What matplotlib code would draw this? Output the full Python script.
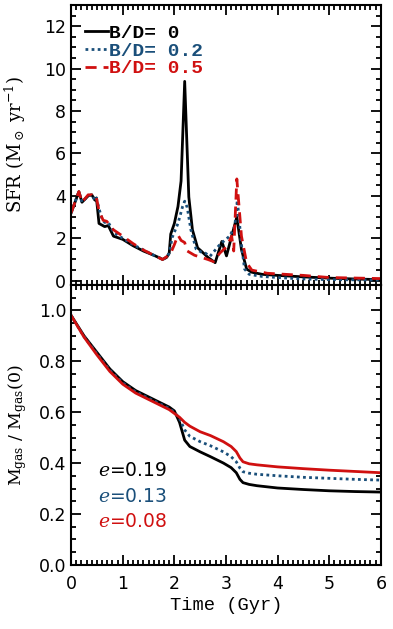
import numpy as np
import matplotlib
matplotlib.use('Agg')
import matplotlib.pyplot as plt
from matplotlib.ticker import MultipleLocator, FormatStrFormatter

# SFR curves (top panel)
t_sfr0 = [0.0, 0.15, 0.21, 0.33, 0.4, 0.46, 0.49, 0.54, 0.65, 0.72, 0.82, 0.88, 1.0, 1.2, 1.4, 1.6,
          1.72, 1.77, 1.85, 1.9, 1.93, 2.0, 2.07, 2.13, 2.2, 2.28, 2.35, 2.45, 2.52, 2.65, 2.79, 2.92,
          3.01, 3.11, 3.21, 3.30, 3.40, 3.5, 3.7, 4.0, 4.5, 5.0, 5.5, 6.0]
sfr0 = [3.2, 4.2, 3.7, 4.0, 4.05, 3.8, 3.9, 2.7, 2.55, 2.6, 2.1, 2.05, 1.95, 1.65, 1.4, 1.2,
        1.07, 1.0, 1.1, 1.3, 2.2, 2.7, 3.5, 4.7, 9.4, 3.95, 2.4, 1.55, 1.4, 1.1, 0.85, 1.85,
        1.17, 2.1, 3.0, 1.47, 0.55, 0.4, 0.3, 0.25, 0.18, 0.12, 0.08, 0.05]

t_sfr2 = [0.0, 0.15, 0.21, 0.33, 0.4, 0.46, 0.49, 0.54, 0.6, 0.65, 0.72, 0.82, 0.9, 1.0, 1.2, 1.4,
          1.6, 1.72, 1.77, 1.85, 1.9, 1.96, 2.07, 2.16, 2.2, 2.25, 2.32, 2.42, 2.52, 2.6, 2.69, 2.88,
          3.07, 3.17, 3.22, 3.30, 3.36, 3.45, 3.7, 4.0, 4.5, 5.0, 6.0]
sfr2 = [3.2, 4.2, 3.7, 4.0, 4.05, 3.8, 3.9, 3.4, 2.9, 2.75, 2.75, 2.3, 2.15, 2.0, 1.7, 1.45,
        1.2, 1.07, 1.0, 1.1, 1.3, 2.05, 2.7, 3.5, 3.75, 3.45, 2.4, 1.5, 1.35, 1.3, 1.15, 1.7,
        2.1, 2.55, 3.8, 1.7, 0.55, 0.3, 0.2, 0.15, 0.08, 0.05, 0.03]

t_sfr5 = [0.0, 0.15, 0.21, 0.33, 0.4, 0.46, 0.49, 0.54, 0.62, 0.69, 0.82, 1.0, 1.2, 1.4, 1.6, 1.77,
          1.85, 1.93, 2.0, 2.07, 2.13, 2.2, 2.25, 2.39, 2.52, 2.65, 2.76, 2.88, 3.01, 3.11, 3.15,
          3.21, 3.30, 3.40, 3.5, 3.8, 4.5, 5.0, 6.0]
sfr5 = [3.2, 4.2, 3.7, 4.05, 4.05, 3.85, 3.9, 3.3, 2.85, 2.8, 2.4, 2.1, 1.75, 1.45, 1.2, 1.0,
        1.13, 1.3, 1.7, 2.15, 1.9, 1.8, 1.4, 1.2, 1.1, 1.0, 0.9, 1.3, 1.6, 2.1, 1.4,
        4.8, 2.1, 0.85, 0.5, 0.35, 0.25, 0.15, 0.1]

# gas fraction curves (bottom panel)
t_gas = [0.0, 0.25, 0.5, 0.75, 1.0, 1.25, 1.5, 1.75, 1.9, 2.0, 2.1, 2.2, 2.3, 2.5, 2.7, 2.95,
         3.1, 3.2, 3.27, 3.33, 3.45, 3.6, 4.0, 4.5, 5.0, 5.5, 6.0]
gas0 = [0.98, 0.90, 0.835, 0.77, 0.72, 0.685, 0.66, 0.635, 0.62, 0.605, 0.56, 0.49, 0.465, 0.444,
        0.425, 0.40, 0.382, 0.362, 0.336, 0.323, 0.316, 0.311, 0.302, 0.296, 0.291, 0.288, 0.286]
gas2 = [0.98, 0.897, 0.83, 0.765, 0.715, 0.68, 0.655, 0.63, 0.615, 0.60, 0.575, 0.53, 0.505, 0.484,
        0.468, 0.444, 0.425, 0.405, 0.38, 0.366, 0.36, 0.356, 0.35, 0.344, 0.34, 0.336, 0.333]
gas5 = [0.98, 0.895, 0.825, 0.76, 0.71, 0.675, 0.65, 0.625, 0.61, 0.595, 0.58, 0.56, 0.545, 0.523,
        0.508, 0.484, 0.465, 0.445, 0.42, 0.405, 0.397, 0.393, 0.385, 0.378, 0.372, 0.367, 0.362]

bd_labels = ['B/D= 0', 'B/D= 0.2', 'B/D= 0.5']
e_labels = ['0.19', '0.13', '0.08']

black = 'black'
blue = '#1a4f7a'
red = '#d01010'
colors = [black, blue, red]

plt.rcParams['font.family'] = 'DejaVu Sans'
plt.rcParams['mathtext.fontset'] = 'dejavuserif'

fig = plt.figure(figsize=(3.93, 6.29), dpi=100)
ax1 = fig.add_axes([0.181, 0.547, 0.788, 0.445])
ax2 = fig.add_axes([0.181, 0.102, 0.788, 0.445], sharex=ax1)

lw = 2.0
dot = (0, (1, 1.2))
ax1.plot(t_sfr0, sfr0, color=black, lw=lw, ls='-', label=bd_labels[0])
ax1.plot(t_sfr2, sfr2, color=blue, lw=lw, ls=dot, label=bd_labels[1])
ax1.plot(t_sfr5, sfr5, color=red, lw=lw, ls=(0, (4, 2.5)), label=bd_labels[2])

ax2.plot(t_gas, gas0, color=black, lw=lw)
ax2.plot(t_gas, gas2, color=blue, lw=lw, ls=dot)
ax2.plot(t_gas, gas5, color=red, lw=lw)

ax1.set_xlim(0, 6)
ax1.set_ylim(-0.2, 13)
ax2.set_ylim(0, 1.1)

for ax in (ax1, ax2):
    ax.tick_params(which='both', direction='in', top=True, right=True, width=1.3, labelsize=12.5)
    ax.tick_params(which='major', length=7)
    ax.tick_params(which='minor', length=3.5)
    ax.xaxis.set_major_locator(MultipleLocator(1))
    ax.xaxis.set_minor_locator(MultipleLocator(0.1))
    for s in ax.spines.values():
        s.set_linewidth(1.5)

ax1.yaxis.set_major_locator(MultipleLocator(2))
ax1.yaxis.set_minor_locator(MultipleLocator(0.5))
ax2.yaxis.set_major_locator(MultipleLocator(0.2))
ax2.yaxis.set_minor_locator(MultipleLocator(0.05))
ax2.yaxis.set_major_formatter(FormatStrFormatter('%.1f'))
ax1.tick_params(labelbottom=False)
ax2.tick_params(axis='x', pad=7)

ax1.set_ylabel(r'SFR (M$_\odot$ yr$^{-1}$)', fontsize=13, family='DejaVu Serif')
ax2.set_ylabel(r'M$_{\rm gas}$ / M$_{\rm gas}$(0)', fontsize=12.5, family='DejaVu Serif')
ax1.yaxis.set_label_coords(-0.14, 0.5)
ax2.yaxis.set_label_coords(-0.135, 0.5)
ax2.set_xlabel('Time (Gyr)', fontsize=13.5, family='Liberation Mono', labelpad=3)

leg = ax1.legend(loc='upper left', bbox_to_anchor=(0.045, 0.93), frameon=False,
                 handlelength=1.2, handletextpad=0.05, labelspacing=0.0,
                 borderaxespad=0, borderpad=0,
                 prop={'family': 'Liberation Mono', 'size': 14, 'weight': 'bold'})
for txt, c in zip(leg.get_texts(), colors):
    txt.set_color(c)

for i, (lab, c) in enumerate(zip(e_labels, colors)):
    ax2.text(0.52, 0.369 - i * 0.1, r'$\it{e}$=' + lab, color=c, fontsize=13.5,
             va='center', ha='left')

fig.savefig('out.png', dpi=100)
